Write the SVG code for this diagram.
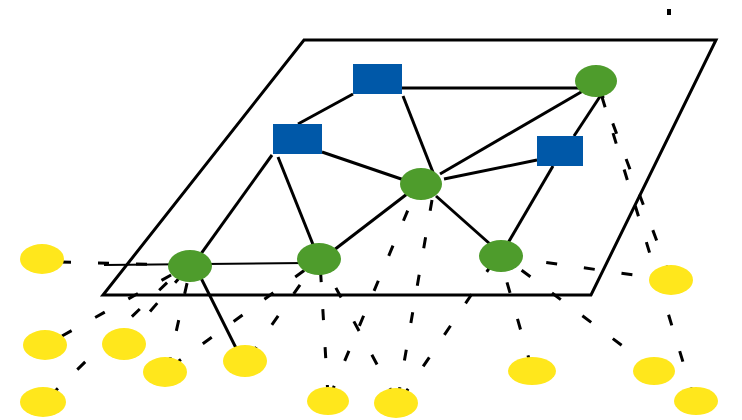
<svg xmlns="http://www.w3.org/2000/svg" width="742" height="420" viewBox="0 0 742 420">
  <style>
    .plane { fill: none; stroke: #000; stroke-width: 3; stroke-linejoin: miter; }
    .edge { stroke: #000; stroke-width: 3; fill: none; }
    .thin { stroke: #000; stroke-width: 2; fill: none; }
    .link { stroke: #000; stroke-width: 3; fill: none; stroke-dasharray: 11 27; }
    .router { fill: #0058a8; }
    .switch { fill: #4e9c2c; }
    .host { fill: #ffe71c; }
  </style>
  <rect width="742" height="420" fill="#fff"/>
  <rect x="667" y="9" width="4" height="6" fill="#000"/>

  <!-- network plane -->
  <polygon class="plane" points="304,40 716,40 591,295 103,295"/>

  <g id="connectors">
    <!-- links in the plane -->
    <line class="edge" x1="402" y1="88" x2="590" y2="88"/>
    <line class="edge" x1="353" y1="94" x2="298" y2="124"/>
    <line class="edge" x1="403" y1="96" x2="436" y2="180"/>
    <line class="edge" x1="322" y1="152" x2="410" y2="182"/>
    <line class="edge" x1="272" y1="155" x2="198" y2="258"/>
    <line class="edge" x1="278" y1="157" x2="316" y2="252"/>
    <line class="edge" x1="440" y1="174" x2="588" y2="88"/>
    <line class="edge" x1="444" y1="179" x2="537" y2="160"/>
    <line class="edge" x1="574" y1="136" x2="601" y2="95"/>
    <line class="edge" x1="407" y1="194" x2="334" y2="250"/>
    <line class="edge" x1="436" y1="196" x2="490" y2="244"/>
    <line class="edge" x1="553" y1="166" x2="508" y2="243"/>
    <line class="thin" x1="104" y1="265" x2="305" y2="263"/>
    <line class="edge" x1="198" y1="272" x2="240" y2="356"/>

    <!-- host uplinks -->
    <line class="link" x1="60" y1="262" x2="175" y2="265"/>
    <line class="link" x1="62" y1="336" x2="180" y2="270"/>
    <line class="link" x1="50" y1="396" x2="178" y2="272"/>
    <line class="link" x1="125" y1="340" x2="188" y2="268"/>
    <line class="link" x1="168" y1="368" x2="190" y2="270"/>
    <line class="link" x1="172" y1="366" x2="316" y2="262"/>
    <line class="link" x1="250" y1="356" x2="316" y2="262"/>
    <line class="link" x1="328" y1="396" x2="320" y2="262"/>
    <line class="link" x1="395" y1="398" x2="322" y2="262"/>
    <line class="link" x1="330" y1="396" x2="418" y2="186"/>
    <line class="link" x1="398" y1="398" x2="432" y2="200"/>
    <line class="link" x1="402" y1="398" x2="496" y2="258"/>
    <line class="link" x1="531" y1="366" x2="500" y2="258"/>
    <line class="link" x1="670" y1="280" x2="500" y2="256"/>
    <line class="link" x1="652" y1="368" x2="500" y2="254"/>
    <line class="link" x1="670" y1="276" x2="598" y2="84"/>
    <line class="link" x1="694" y1="398" x2="598" y2="84"/>
  </g>

  <!-- routers -->
  <g id="router-1"><rect class="router" x="353" y="64" width="49" height="30"/></g>
  <g id="router-2"><rect class="router" x="273" y="124" width="49" height="30"/></g>
  <g id="router-3"><rect class="router" x="537" y="136" width="46" height="30"/></g>

  <!-- switches -->
  <g id="switch-1"><ellipse class="switch" cx="596" cy="81" rx="21" ry="16"/></g>
  <g id="switch-2"><ellipse class="switch" cx="421" cy="184" rx="21" ry="16"/></g>
  <g id="switch-3"><ellipse class="switch" cx="190" cy="266" rx="22" ry="16"/></g>
  <g id="switch-4"><ellipse class="switch" cx="319" cy="259" rx="22" ry="16"/></g>
  <g id="switch-5"><ellipse class="switch" cx="501" cy="256" rx="22" ry="16"/></g>

  <!-- hosts -->
  <g id="host-1"><ellipse class="host" cx="42" cy="259" rx="22" ry="15"/></g>
  <g id="host-2"><ellipse class="host" cx="45" cy="345" rx="22" ry="15"/></g>
  <g id="host-3"><ellipse class="host" cx="124" cy="344" rx="22" ry="16"/></g>
  <g id="host-4"><ellipse class="host" cx="165" cy="372" rx="22" ry="15"/></g>
  <g id="host-5"><ellipse class="host" cx="245" cy="361" rx="22" ry="16"/></g>
  <g id="host-6"><ellipse class="host" cx="43" cy="402" rx="23" ry="15"/></g>
  <g id="host-7"><ellipse class="host" cx="328" cy="401" rx="21" ry="14"/></g>
  <g id="host-8"><ellipse class="host" cx="396" cy="403" rx="22" ry="15"/></g>
  <g id="host-9"><ellipse class="host" cx="532" cy="371" rx="24" ry="14"/></g>
  <g id="host-10"><ellipse class="host" cx="654" cy="371" rx="21" ry="14"/></g>
  <g id="host-11"><ellipse class="host" cx="696" cy="401" rx="22" ry="14"/></g>
  <g id="host-12"><ellipse class="host" cx="671" cy="280" rx="22" ry="15"/></g>
</svg>
